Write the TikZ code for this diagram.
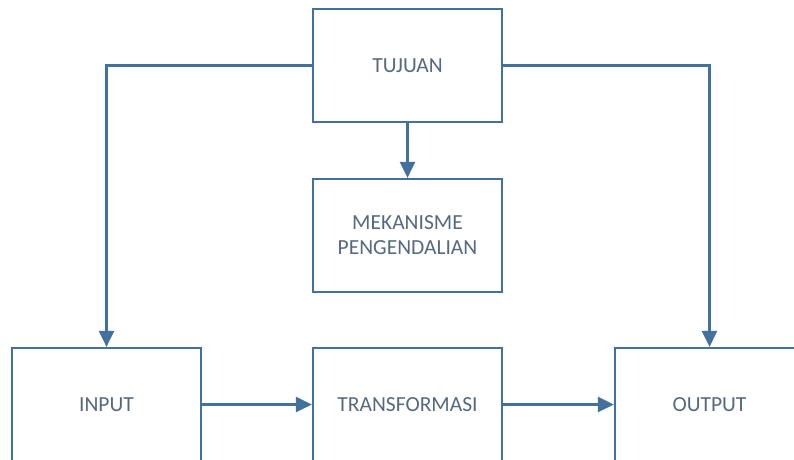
\documentclass[tikz,border=0pt]{standalone}
\usepackage{fontspec}
\setmainfont{Carlito}
\usetikzlibrary{arrows.meta}
\definecolor{boxline}{HTML}{41719C}
\definecolor{boxtext}{HTML}{55697F}
\tikzset{
  blok/.style={draw=boxline, line width=2.2pt, fill=white, minimum width=189pt, minimum height=113pt, align=center, text=boxtext, font=\fontsize{21.5}{25}\selectfont},
  panah/.style={draw=boxline, line width=2.6pt, -{Triangle[length=16pt,width=15pt]}},
}
\begin{document}
\begin{tikzpicture}[x=1pt,y=-1pt]
			\useasboundingbox (0,0) rectangle (794,459);
			\node[blok] (tujuan) at (407.5,65.5) {TUJUAN};
			\node[blok] (mekanisme) at (407.5,235.5) {MEKANISME\\PENGENDALIAN};
			\node[blok] (input) at (106.5,404.5) {INPUT};
			\node[blok] (transformasi) at (407.5,404.5) {TRANSFORMASI};
			\node[blok] (output) at (709.5,404.5) {OUTPUT};
			\draw[panah] (tujuan.west) -| (input.north);
			\draw[panah] (tujuan.east) -| (output.north);
			\draw[panah] (tujuan.south) -- (mekanisme.north);
			\draw[panah] (input.east) -- (transformasi.west);
			\draw[panah] (transformasi.east) -- (output.west);
		\end{tikzpicture}
\end{document}
